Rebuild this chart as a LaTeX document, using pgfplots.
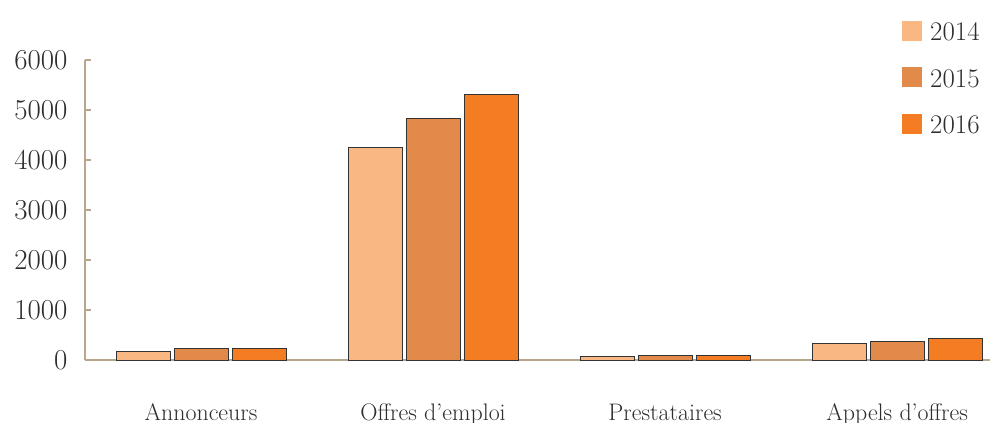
\documentclass[border=0pt]{standalone}
\usepackage{pgfplots}
\pgfplotsset{compat=1.18}
\definecolor{cA}{RGB}{249,183,132}
\definecolor{cB}{RGB}{226,138,74}
\definecolor{cC}{RGB}{244,125,36}
\definecolor{axc}{RGB}{184,166,140}
\definecolor{txt}{RGB}{45,45,45}
\begin{document}
\begin{tikzpicture}
\useasboundingbox (-85bp,-63bp) rectangle (909bp,360bp);
\begin{axis}[
  at={(0,0)}, anchor=south west,
  scale only axis, width=905bp, height=300bp,
  ybar=4bp, bar width=54bp,
  xmin=-0.5, xmax=3.4, ymin=0, ymax=6000,
  axis x line=bottom, axis y line=left,
  axis line style={-, draw=axc, line width=1.2bp},
  xtick={0,1,2,3},
  xticklabels={Annonceurs, Offres d’emploi, Prestataires, Appels d’offres},
  xtick style={draw=none},
  ytick={0,1000,...,6000},
  scaled y ticks=false,
  y tick label style={/pgf/number format/1000 sep={}},
  ytick style={draw=axc, line width=2bp},
  tick align=inside, major tick length=6bp,
  /pgf/number format/assume math mode=true,
  yticklabel style={font=\fontsize{29}{33}\selectfont, text=txt, anchor=east, xshift=-14bp},
  xticklabel style={font=\fontsize{24}{28}\selectfont, text=txt, anchor=base, yshift=-60bp},
  legend style={draw=none, fill=none, inner sep=0pt, at={(0.9028,1.131)}, anchor=north west,
     font=\fontsize{27}{31}\selectfont, text=txt, row sep=26.5bp,
     nodes={inner sep=0pt, text height=19bp, text depth=0bp}},
  legend cell align=left,
  legend image code/.code={\fill[#1,draw=none] (0bp,-9.5bp) rectangle (20bp,10.5bp);},
  every axis plot/.append style={draw=black!80, line width=0.8bp},
]
\addplot[fill=cA] coordinates {(0,175) (1,4260) (2,80) (3,330)};
\addplot[fill=cB] coordinates {(0,230) (1,4840) (2,95) (3,370)};
\addplot[fill=cC] coordinates {(0,240) (1,5320) (2,100) (3,440)};
\legend{\hspace{8bp}2014,\hspace{8bp}2015,\hspace{8bp}2016}
\end{axis}
\end{tikzpicture}
\end{document}
